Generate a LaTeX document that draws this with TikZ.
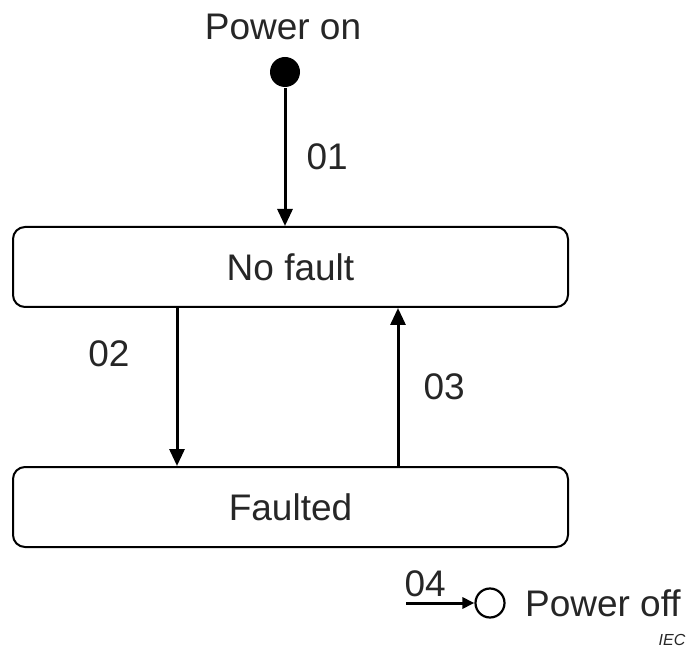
\documentclass[tikz,border=0pt]{standalone}
\usepackage{fontspec}
\setmainfont{Liberation Sans}
\usetikzlibrary{arrows.meta,positioning}

\begin{document}
\begin{tikzpicture}[x=1pt, y=-1pt, >={Triangle[length=17pt,width=15pt]}, line width=3pt]
  \tikzstyle{every node}=[font=\fontsize{37}{40}\selectfont, text=black!85]
  \tikzstyle{statebox}=[draw=black, text=black!85, line width=2pt, rounded corners=12pt, minimum width=555pt, minimum height=80pt, inner sep=0pt]
  \tikzstyle{initdot}=[circle, fill=black, minimum size=30pt, inner sep=0pt]
  \tikzstyle{finaldot}=[circle, draw=black, line width=2.2pt, minimum size=29pt, inner sep=0pt]
  \tikzstyle{lbl}=[inner sep=0pt]
  \useasboundingbox (0,0) rectangle (689,655);

  \node[lbl]      (poweron) at (283,27)    {Power on};
  \node[initdot]  (init)    at (285,72)    {};
  \node[statebox] (nofault) at (290.5,267) {No fault};
  \node[statebox] (faulted) at (290.5,507) {Faulted};
  \node[finaldot] (final)   at (490,603)   {};
  \node[lbl, right=18pt of final] (poweroff) {Power off};
  \coordinate     (off)     at (406,603);
  \node[lbl, font=\fontsize{16}{18}\selectfont\itshape] (iec) at (672,640) {IEC};

  % transitions
  \draw[->] (init) -- node[lbl, right=20pt] {01} (init |- nofault.north);
  \draw[->] ([xshift=-113.5pt]nofault.south) -- node[lbl, left=46pt, pos=0.29] {02} ([xshift=-113.5pt]faulted.north);
  \draw[->] ([xshift=107.5pt]faulted.north) -- node[lbl, right=24pt] {03} ([xshift=107.5pt]nofault.south);
  \draw[-{Triangle[length=12pt,width=11pt]}] (off) -- node[lbl, above=5pt, pos=0.28] {04} (final);
\end{tikzpicture}
\end{document}
